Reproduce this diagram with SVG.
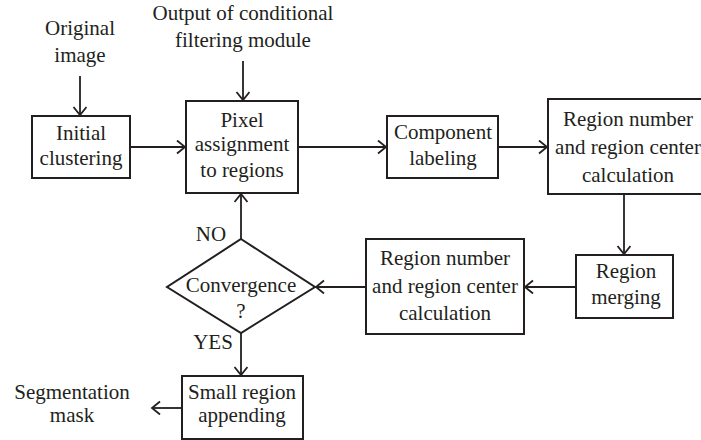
<svg xmlns="http://www.w3.org/2000/svg" width="701" height="440" viewBox="0 0 701 440" font-family="Liberation Serif" font-size="21">
<style>
text{fill:#231f20;text-anchor:middle}
.box{fill:#fff;stroke:#231f20;stroke-width:2}
.c{fill:none;stroke:#231f20;stroke-width:1.8}
</style>
<defs>
<marker id="ah" markerUnits="userSpaceOnUse" markerWidth="14" markerHeight="16" refX="10" refY="7" orient="auto">
<path d="M2,0.5 L10,7 L2,13.5" fill="none" stroke="#231f20" stroke-width="1.8"/>
</marker>
</defs>
<rect width="701" height="440" fill="#fff"/>
<g id="connectors">
<line class="c" x1="80" y1="76" x2="80" y2="115" marker-end="url(#ah)"/>
<line class="c" x1="243" y1="61" x2="243" y2="100" marker-end="url(#ah)"/>
<line class="c" x1="130" y1="147" x2="185" y2="147" marker-end="url(#ah)"/>
<line class="c" x1="298" y1="147" x2="386" y2="147" marker-end="url(#ah)"/>
<line class="c" x1="498" y1="147" x2="547" y2="147" marker-end="url(#ah)"/>
<line class="c" x1="624" y1="194" x2="624" y2="254" marker-end="url(#ah)"/>
<line class="c" x1="576" y1="287" x2="525" y2="287" marker-end="url(#ah)"/>
<line class="c" x1="366" y1="287" x2="316" y2="287" marker-end="url(#ah)"/>
<line class="c" x1="241" y1="239" x2="241" y2="194" marker-end="url(#ah)"/>
<line class="c" x1="241" y1="333" x2="241" y2="375" marker-end="url(#ah)"/>
<line class="c" x1="182" y1="408" x2="152" y2="408" marker-end="url(#ah)"/>
</g>
<g id="original-image"><text x="80" y="35">Original</text><text x="80" y="62">image</text></g>
<g id="output-cond"><text x="243" y="20">Output of conditional</text><text x="243" y="47">filtering module</text></g>
<g id="initial-clustering"><rect class="box" x="32" y="116" width="98" height="62"/><text x="81" y="140">Initial</text><text x="81" y="165">clustering</text></g>
<g id="pixel-assignment"><rect class="box" x="186" y="101" width="112" height="92"/><text x="242" y="127">Pixel</text><text x="242" y="151">assignment</text><text x="242" y="177">to regions</text></g>
<g id="component-labeling"><rect class="box" x="387" y="116" width="111" height="62"/><text x="443" y="139">Component</text><text x="443" y="165">labeling</text></g>
<g id="region-calc-1"><rect class="box" x="548" y="99" width="160" height="95"/><text x="628" y="126">Region number</text><text x="628" y="154">and region center</text><text x="628" y="182">calculation</text></g>
<g id="region-merging"><rect class="box" x="576" y="255" width="97" height="63"/><text x="626" y="278">Region</text><text x="626" y="304">merging</text></g>
<g id="region-calc-2"><rect class="box" x="366" y="239" width="158" height="95"/><text x="445" y="265">Region number</text><text x="445" y="293">and region center</text><text x="445" y="320">calculation</text></g>
<g id="convergence"><polygon class="box" points="241,239 315,287 241,333 167,287"/><text x="241" y="292">Convergence</text><text x="241" y="318">?</text></g>
<g id="no-label"><text x="211" y="241">NO</text></g>
<g id="yes-label"><text x="213" y="349">YES</text></g>
<g id="small-region"><rect class="box" x="182" y="376" width="121" height="63"/><text x="242" y="399">Small region</text><text x="242" y="422">appending</text></g>
<g id="segmentation-mask"><text x="72" y="399">Segmentation</text><text x="72" y="422">mask</text></g>
</svg>
